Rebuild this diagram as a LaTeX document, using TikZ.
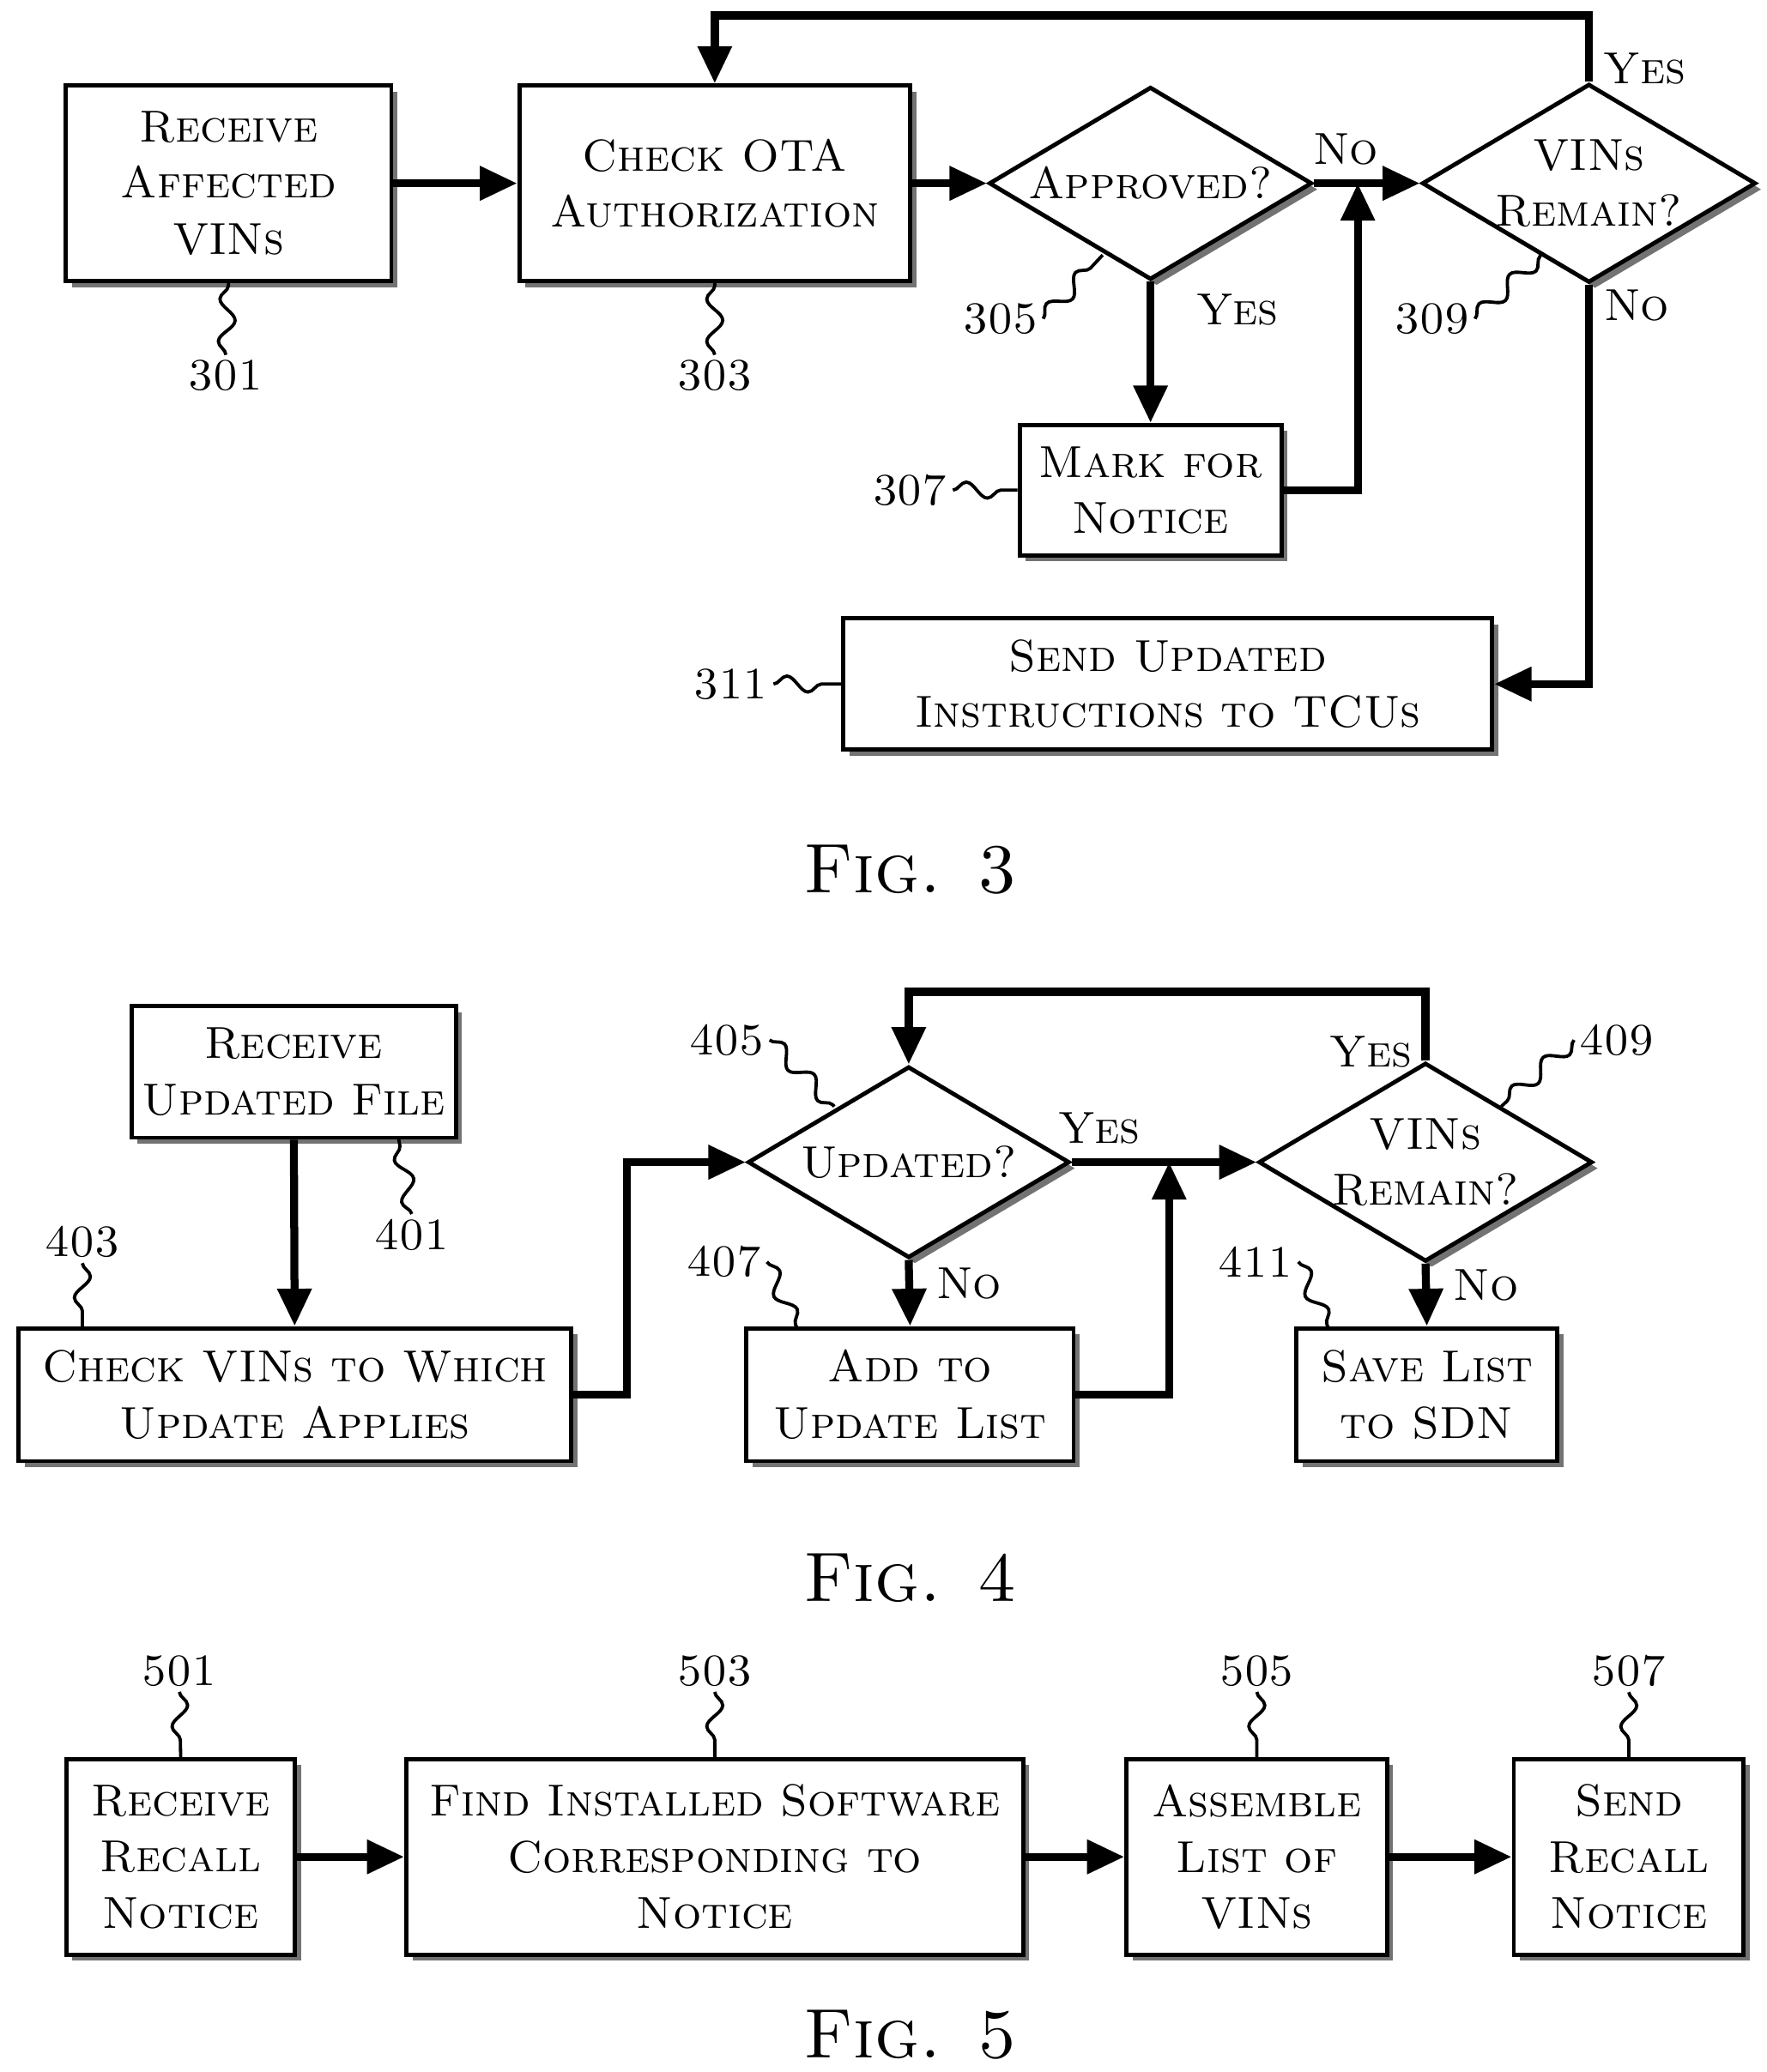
\documentclass[tikz,border=0pt]{standalone}
\usepackage{fontspec}
\usetikzlibrary{shapes.geometric,arrows.meta,shadows,decorations.pathmorphing}
\begin{document}
\begin{tikzpicture}[x=0.01cm,y=-0.01cm,
 font=\fontsize{9.6}{12}\selectfont\scshape,
 box/.style={draw,line width=0.9pt,fill=white,align=center,inner sep=0pt,
   drop shadow={shadow xshift=1.3pt,shadow yshift=-1.3pt,fill=black!55,opacity=1}},
 dia/.style={draw,diamond,aspect=1.68,line width=0.9pt,fill=white,align=center,inner sep=0pt,
   drop shadow={shadow xshift=1.3pt,shadow yshift=-1.3pt,fill=black!55,opacity=1}},
 arr/.style={line width=1.7pt,-{Triangle[length=8pt,width=7pt]}},
 sq/.style={line width=0.7pt,decorate,decoration={snake,amplitude=0.06cm,segment length=0.32cm}},
 lab/.style={inner sep=1pt},
 figcap/.style={font=\fontsize{15}{18}\selectfont\scshape}]
\useasboundingbox (0,0) rectangle (1330,1560);
% ---------------- Fig 3
\node[box,minimum width=2.45cm,minimum height=1.47cm] (b301) at (172,138) {Receive\\Affected\\VINs};
\node[box,minimum width=2.94cm,minimum height=1.47cm] (b303) at (538,138) {Check OTA\\Authorization};
\node[dia,minimum width=2.43cm,minimum height=1.45cm] (d305) at (866,138) {Approved?};
\node[dia,minimum width=2.45cm,minimum height=1.45cm] (d309) at (1196,138) {VINs\\Remain?};
\node[box,minimum width=1.97cm,minimum height=0.98cm] (b307) at (866,369) {Mark for\\Notice};
\node[box,minimum width=4.88cm,minimum height=0.99cm] (b311) at (879,515) {Send Updated\\Instructions to TCUs};
\coordinate (j3) at (1022,138);
\draw[arr] (b301) -- (b303);
\draw[arr] (b303) -- (d305);
\draw[arr] (d305.east) -- (d309.west) node[pos=0.3,above=2pt,lab] {No};
\draw[arr] (d305.south) -- (b307.north) node[pos=0.2,right=8pt,lab] {Yes};
\draw[arr] (b307.east) -| (j3);
\draw[arr] (d309.north) -- ++(0,-50) -| (b303.north);
\node[lab] at (1238,52) {Yes};
\draw[arr] (d309.south) |- (b311.east);
\node[lab] at (1232,230) {No};
\node[lab] (l301) at (170,283) {301};
\node[lab] (l303) at (538,283) {303};
\node[lab] (l305) at (753,240) {305};
\node[lab] (l309) at (1078,240) {309};
\node[lab] (l307) at (685,369) {307};
\node[lab] (l311) at (550,515) {311};
\coordinate (c305) at (830,192); \coordinate (c309) at (1160,192);
\draw[sq] (l301.north) -- (b301.south);
\draw[sq] (l303.north) -- (b303.south);
\draw[sq] (l305.east) -- (c305);
\draw[sq] (l309.east) -- (c309);
\draw[sq] (l307.east) -- (b307.west);
\draw[sq] (l311.east) -- (b311.west);
\node[figcap] (f3) at (685,655) {Fig. 3};
% ---------------- Fig 4
\node[box,minimum width=2.44cm,minimum height=0.99cm] (b401) at (221,807) {Receive\\Updated File};
\node[box,minimum width=4.16cm,minimum height=1.0cm] (b403) at (222,1050) {Check VINs to Which\\Update Applies};
\node[dia,minimum width=2.42cm,minimum height=1.44cm] (d405) at (684,875) {Updated?};
\node[dia,minimum width=2.44cm,minimum height=1.44cm] (d409) at (1073,875) {VINs\\Remain?};
\node[box,minimum width=2.46cm,minimum height=1.0cm] (b407) at (685,1050) {Add to\\Update List};
\node[box,minimum width=1.96cm,minimum height=1.0cm] (b411) at (1074,1050) {Save List\\to SDN};
\coordinate (j4) at (880,875);
\draw[arr] (b401) -- (b403);
\draw[arr] (b403.east) -- ++(40,0) |- (d405.west);
\draw[arr] (d405.east) -- (d409.west) node[pos=0.15,above=2pt,lab] {Yes};
\draw[arr] (d405.south) -- (b407.north) node[pos=0.35,right=4pt,lab] {No};
\draw[arr] (b407.east) -| (j4);
\draw[arr] (d409.north) -- ++(0,-52) -| (d405.north);
\node[lab] at (1032,792) {Yes};
\draw[arr] (d409.south) -- (b411.north) node[pos=0.35,right=4pt,lab] {No};
\node[lab] (l401) at (310,930) {401};
\node[lab] (l403) at (62,935) {403};
\node[lab] (l405) at (547,783) {405};
\node[lab] (l409) at (1217,783) {409};
\node[lab] (l407) at (545,950) {407};
\node[lab] (l411) at (945,950) {411};
\coordinate (c401) at (300,857); \coordinate (c403) at (62,1000);
\coordinate (c405) at (628,833); \coordinate (c409) at (1130,833);
\coordinate (c407) at (600,1000); \coordinate (c411) at (1000,1000);
\draw[sq] (l401.north) -- (c401);
\draw[sq] (l403.south) -- (c403);
\draw[sq] (l405.east) -- (c405);
\draw[sq] (l409.west) -- (c409);
\draw[sq] (l407.east) -- (c407);
\draw[sq] (l411.east) -- (c411);
\node[figcap] (f4) at (685,1188) {Fig. 4};
% ---------------- Fig 5
\node[box,minimum width=1.72cm,minimum height=1.47cm] (b501) at (136,1398) {Receive\\Recall\\Notice};
\node[box,minimum width=4.64cm,minimum height=1.47cm] (b503) at (538,1398) {Find Installed Software\\Corresponding to\\Notice};
\node[box,minimum width=1.96cm,minimum height=1.47cm] (b505) at (946,1398) {Assemble\\List of\\VINs};
\node[box,minimum width=1.73cm,minimum height=1.47cm] (b507) at (1226,1398) {Send\\Recall\\Notice};
\draw[arr] (b501) -- (b503);
\draw[arr] (b503) -- (b505);
\draw[arr] (b505) -- (b507);
\node[lab] (l501) at (135,1258) {501};
\node[lab] (l503) at (538,1258) {503};
\node[lab] (l505) at (946,1258) {505};
\node[lab] (l507) at (1226,1258) {507};
\draw[sq] (l501.south) -- (b501.north);
\draw[sq] (l503.south) -- (b503.north);
\draw[sq] (l505.south) -- (b505.north);
\draw[sq] (l507.south) -- (b507.north);
\node[figcap] (f5) at (685,1532) {Fig. 5};
\end{tikzpicture}
\end{document}
